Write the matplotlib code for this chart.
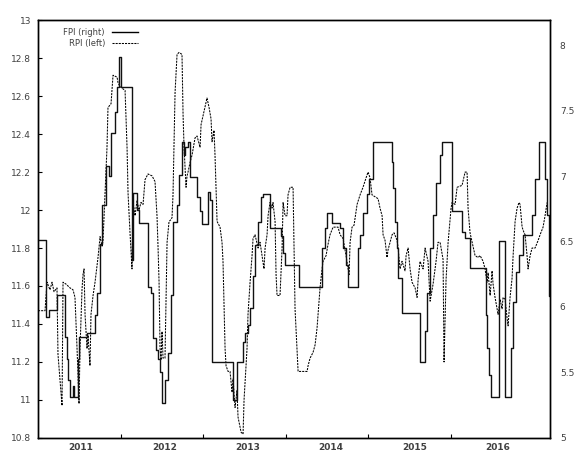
import numpy as np
import matplotlib
matplotlib.use("Agg")
import matplotlib.pyplot as plt
from matplotlib.lines import Line2D

# FPI (right axis) - step series: year where the level changes, new level
fpi_x = [2011.000, 2011.097, 2011.133, 2011.230, 2011.327, 2011.352, 2011.364, 2011.388,
         2011.424, 2011.436, 2011.485, 2011.497, 2011.594, 2011.691, 2011.715, 2011.752,
         2011.776, 2011.824, 2011.861, 2011.885, 2011.933, 2011.958, 2011.982, 2012.006,
         2012.139, 2012.152, 2012.200, 2012.224, 2012.333, 2012.370, 2012.394, 2012.430,
         2012.455, 2012.479, 2012.503, 2012.539, 2012.576, 2012.612, 2012.636, 2012.685,
         2012.709, 2012.745, 2012.770, 2012.782, 2012.818, 2012.842, 2012.927, 2012.964,
         2012.988, 2013.061, 2013.085, 2013.109, 2013.364, 2013.412, 2013.485, 2013.509,
         2013.545, 2013.570, 2013.606, 2013.630, 2013.667, 2013.703, 2013.727, 2013.812,
         2013.945, 2013.970, 2013.994, 2014.164, 2014.442, 2014.479, 2014.503, 2014.564,
         2014.661, 2014.697, 2014.733, 2014.758, 2014.879, 2014.903, 2014.939, 2014.988,
         2015.012, 2015.061, 2015.291, 2015.303, 2015.327, 2015.352, 2015.364, 2015.412,
         2015.424, 2015.630, 2015.691, 2015.715, 2015.752, 2015.788, 2015.824, 2015.873,
         2015.897, 2016.018, 2016.139, 2016.176, 2016.236, 2016.430, 2016.442, 2016.467,
         2016.491, 2016.588, 2016.661, 2016.733, 2016.758, 2016.794, 2016.830, 2016.879,
         2016.988, 2017.024, 2017.073, 2017.145, 2017.170, 2017.194, 2017.206]
fpi_y = [6.51, 5.92, 5.98, 6.09, 5.77, 5.60, 5.44, 5.31,
         5.40, 5.31, 5.60, 5.77, 5.80, 5.94, 6.11, 6.48,
         6.78, 7.08, 7.00, 7.33, 7.49, 7.68, 7.91, 7.68,
         6.36, 6.87, 6.74, 6.64, 6.15, 6.11, 5.76, 5.67,
         5.60, 5.50, 5.27, 5.44, 5.65, 6.09, 6.65, 6.78,
         7.01, 7.26, 7.16, 7.22, 7.26, 6.99, 6.84, 6.73,
         6.63, 6.88, 6.82, 5.58, 5.29, 5.58, 5.73, 5.80,
         5.86, 5.99, 6.24, 6.47, 6.65, 6.84, 6.86, 6.60,
         6.54, 6.41, 6.32, 6.15, 6.45, 6.60, 6.72, 6.64,
         6.60, 6.45, 6.32, 6.15, 6.45, 6.55, 6.72, 6.86,
         6.98, 7.26, 7.11, 6.91, 6.65, 6.45, 6.22, 5.95,
         5.95, 5.58, 5.82, 6.11, 6.45, 6.70, 6.95, 7.16,
         7.26, 6.73, 6.57, 6.53, 6.30, 5.94, 5.69, 5.48,
         5.31, 6.50, 5.31, 5.69, 6.04, 6.27, 6.40, 6.55,
         6.70, 6.98, 7.26, 6.98, 6.70, 6.08, 6.08]

# RPI (left axis)
rpi_x = [2011.000, 2011.085, 2011.109, 2011.145, 2011.170, 2011.194, 2011.230, 2011.242,
         2011.291, 2011.303, 2011.339, 2011.388, 2011.424, 2011.448, 2011.473, 2011.497,
         2011.509, 2011.533, 2011.545, 2011.558, 2011.570, 2011.594, 2011.606, 2011.630,
         2011.642, 2011.667, 2011.691, 2011.727, 2011.752, 2011.776, 2011.788, 2011.812,
         2011.836, 2011.848, 2011.885, 2011.909, 2011.958, 2011.970, 2011.994, 2012.055,
         2012.079, 2012.091, 2012.115, 2012.139, 2012.152, 2012.176, 2012.200, 2012.224,
         2012.248, 2012.273, 2012.297, 2012.333, 2012.382, 2012.418, 2012.442, 2012.455,
         2012.467, 2012.479, 2012.491, 2012.503, 2012.515, 2012.539, 2012.564, 2012.588,
         2012.612, 2012.624, 2012.636, 2012.648, 2012.661, 2012.685, 2012.709, 2012.745,
         2012.758, 2012.770, 2012.794, 2012.806, 2012.818, 2012.842, 2012.867, 2012.903,
         2012.927, 2012.964, 2012.976, 2013.012, 2013.048, 2013.073, 2013.097, 2013.109,
         2013.133, 2013.145, 2013.170, 2013.206, 2013.230, 2013.242, 2013.267, 2013.279,
         2013.303, 2013.327, 2013.352, 2013.364, 2013.388, 2013.412, 2013.424, 2013.461,
         2013.485, 2013.497, 2013.509, 2013.533, 2013.545, 2013.570, 2013.594, 2013.606,
         2013.630, 2013.667, 2013.691, 2013.715, 2013.739, 2013.752, 2013.776, 2013.788,
         2013.812, 2013.836, 2013.848, 2013.873, 2013.885, 2013.897, 2013.933, 2013.958,
         2013.970, 2013.994, 2014.018, 2014.030, 2014.055, 2014.091, 2014.103, 2014.115,
         2014.139, 2014.152, 2014.261, 2014.273, 2014.297, 2014.333, 2014.358, 2014.382,
         2014.394, 2014.418, 2014.442, 2014.455, 2014.491, 2014.515, 2014.539, 2014.576,
         2014.636, 2014.661, 2014.697, 2014.733, 2014.758, 2014.770, 2014.782, 2014.806,
         2014.830, 2014.867, 2014.903, 2014.939, 2014.976, 2015.000, 2015.024, 2015.048,
         2015.085, 2015.121, 2015.145, 2015.170, 2015.182, 2015.206, 2015.230, 2015.242,
         2015.291, 2015.315, 2015.352, 2015.364, 2015.388, 2015.412, 2015.448, 2015.461,
         2015.485, 2015.509, 2015.533, 2015.570, 2015.594, 2015.606, 2015.630, 2015.667,
         2015.691, 2015.727, 2015.752, 2015.776, 2015.788, 2015.824, 2015.848, 2015.873,
         2015.909, 2015.921, 2015.945, 2015.970, 2016.006, 2016.018, 2016.055, 2016.079,
         2016.139, 2016.176, 2016.200, 2016.212, 2016.236, 2016.261, 2016.297, 2016.333,
         2016.358, 2016.394, 2016.418, 2016.442, 2016.455, 2016.479, 2016.503, 2016.515,
         2016.539, 2016.564, 2016.576, 2016.600, 2016.624, 2016.636, 2016.661, 2016.685,
         2016.697, 2016.721, 2016.745, 2016.758, 2016.782, 2016.806, 2016.830, 2016.842,
         2016.867, 2016.891, 2016.903, 2016.927, 2016.939, 2016.964, 2016.988, 2017.024,
         2017.061, 2017.085, 2017.121, 2017.145, 2017.170]
rpi_y = [11.47, 11.47, 11.62, 11.58, 11.62, 11.57, 11.59, 11.24,
         10.97, 11.62, 11.61, 11.59, 11.58, 11.54, 11.27, 10.98,
         11.27, 11.58, 11.66, 11.69, 11.45, 11.27, 11.34, 11.18,
         11.45, 11.55, 11.62, 11.75, 11.86, 11.81, 11.84, 12.08,
         12.33, 12.54, 12.56, 12.71, 12.70, 12.67, 12.65, 12.63,
         12.33, 12.09, 11.88, 11.69, 12.04, 11.97, 12.05, 12.00,
         12.04, 12.03, 12.16, 12.19, 12.18, 12.15, 11.97, 11.80,
         11.62, 11.27, 11.21, 11.36, 11.22, 11.22, 11.83, 11.94,
         11.95, 11.96, 12.08, 12.33, 12.62, 12.82, 12.83, 12.82,
         12.50, 12.33, 12.12, 12.18, 12.20, 12.25, 12.29, 12.38,
         12.39, 12.33, 12.45, 12.52, 12.59, 12.54, 12.48, 12.36,
         12.42, 12.29, 11.94, 11.91, 11.83, 11.73, 11.27, 11.18,
         11.15, 11.15, 11.04, 11.11, 10.96, 11.05, 10.91, 10.83,
         10.82, 11.00, 11.09, 11.27, 11.45, 11.62, 11.76, 11.85,
         11.87, 11.80, 11.83, 11.76, 11.69, 11.80, 11.87, 11.97,
         12.04, 12.01, 12.04, 11.94, 11.66, 11.55, 11.55, 11.80,
         12.04, 11.97, 11.97, 12.08, 12.12, 12.12, 11.80, 11.48,
         11.27, 11.15, 11.15, 11.18, 11.22, 11.25, 11.29, 11.38,
         11.45, 11.59, 11.69, 11.73, 11.76, 11.82, 11.87, 11.91,
         11.91, 11.87, 11.85, 11.76, 11.69, 11.66, 11.83, 11.91,
         11.92, 12.03, 12.08, 12.12, 12.17, 12.20, 12.17, 12.08,
         12.07, 12.06, 12.01, 11.97, 11.87, 11.84, 11.75, 11.79,
         11.87, 11.88, 11.84, 11.80, 11.69, 11.73, 11.68, 11.76,
         11.80, 11.69, 11.62, 11.59, 11.54, 11.63, 11.73, 11.69,
         11.80, 11.73, 11.52, 11.58, 11.61, 11.73, 11.83, 11.83,
         11.74, 11.20, 11.63, 11.83, 12.01, 12.04, 12.03, 12.12,
         12.13, 12.20, 12.20, 12.01, 11.88, 11.83, 11.76, 11.75,
         11.76, 11.73, 11.69, 11.62, 11.67, 11.55, 11.68, 11.61,
         11.54, 11.48, 11.45, 11.53, 11.48, 11.54, 11.53, 11.43,
         11.39, 11.54, 11.64, 11.76, 11.94, 12.01, 12.04, 12.03,
         11.91, 11.88, 11.87, 11.76, 11.69, 11.76, 11.80, 11.80,
         11.84, 11.87, 11.91, 11.97, 12.04]

year_ticks = [2012, 2013, 2014, 2015, 2016]
year_labels = ['2011', '2012', '2013', '2014', '2015', '2016']
left_ticks = [10.8, 11.0, 11.2, 11.4, 11.6, 11.8, 12.0, 12.2, 12.4, 12.6, 12.8, 13.0]
right_ticks = [5, 5.5, 6, 6.5, 7, 7.5, 8]

plt.rcParams['font.family'] = 'DejaVu Sans'
txt = '#404040'

fig = plt.figure(figsize=(5.76, 4.59), dpi=100)
ax = fig.add_axes([0.066, 0.046, 0.889, 0.910])
ax2 = ax.twinx()

ax2.plot(fpi_x, fpi_y, drawstyle='steps-post', color='#111111', lw=1.0)
ax.plot(rpi_x, rpi_y, color='black', lw=0.75, linestyle=(0, (2, 1)))

ax.set_xlim(2011.0, 2017.206)
ax.set_ylim(10.8, 13.0)
ax2.set_ylim(5.0, 8.19)

ax.set_yticks(left_ticks)
ax.set_yticklabels(['%g' % v for v in left_ticks], fontsize=6.5, color=txt)
ax.tick_params(axis='y', direction='in', length=3, width=0.8, pad=5)

ax2.set_yticks(right_ticks)
ax2.set_yticklabels(['%g' % v for v in right_ticks], fontsize=6.5, color=txt)
ax2.tick_params(axis='y', length=0, pad=7)

ax.set_xticks(year_ticks)
ax.set_xticklabels([])
ax.tick_params(axis='x', direction='in', length=3, width=0.8)
for i, lab in enumerate(year_labels):
    ax.text(2011.52 + i * 1.01, -0.012, lab, transform=ax.get_xaxis_transform(),
            ha='center', va='top', fontsize=6.5, color=txt, fontweight='bold')

for a in (ax, ax2):
    for s in a.spines.values():
        s.set_linewidth(1.0)
        s.set_color('black')

handles = [Line2D([], [], color='black', lw=1.0),
           Line2D([], [], color='black', lw=0.75, linestyle=(0, (2, 1)))]
leg = ax.legend(handles, ['FPI (right)', 'RPI (left)'], loc='upper left',
                bbox_to_anchor=(0.035, 1.0), frameon=False, markerfirst=False,
                fontsize=6, handlelength=3.2, labelspacing=0.3, handletextpad=0.8)
for t in leg.get_texts():
    t.set_color(txt)

fig.savefig('out.png', dpi=100)
